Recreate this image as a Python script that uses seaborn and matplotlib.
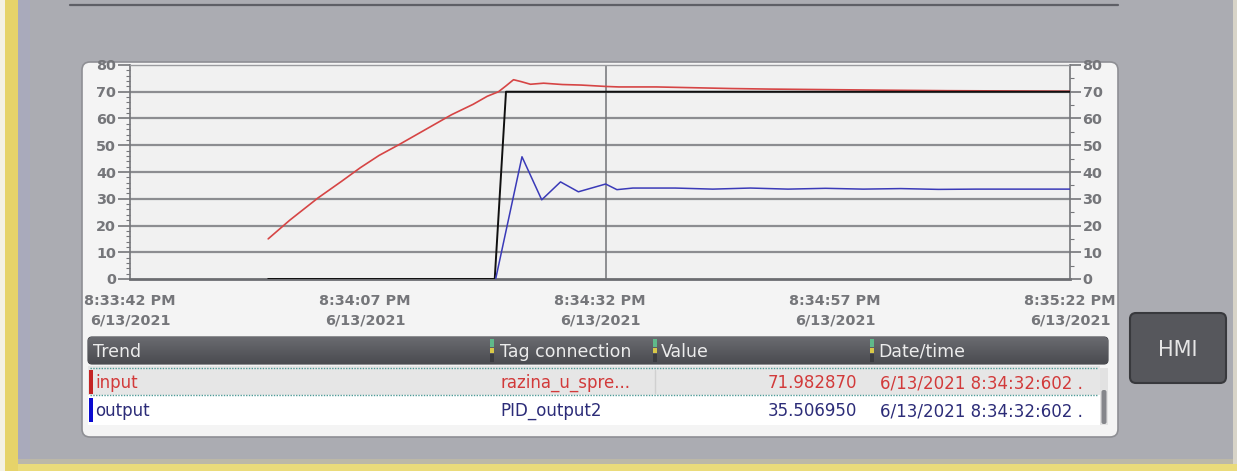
import matplotlib
matplotlib.use("Agg")
import matplotlib.pyplot as plt
from matplotlib.patches import FancyBboxPatch, Rectangle
from matplotlib.colors import LinearSegmentedColormap
from matplotlib.ticker import MultipleLocator, FixedLocator
import numpy as np
import pandas as pd
import seaborn as sns

# ---- trend data (seconds after 8:33:42 PM) ----
input_t = [14.7, 17.0, 20.0, 22.5, 24.5, 26.5, 28.6, 31.0, 34.2, 36.5, 38.0, 39.2,
           40.0, 40.8, 41.6, 42.6, 44.0, 46.0, 48.0, 50.602, 52.0, 56.0, 60.0, 64.0,
           68.0, 74.0, 80.0, 87.0, 100.0]
input_v = [15.0, 22.0, 30.3, 36.5, 41.6, 46.2, 50.2, 55.0, 61.4, 65.3, 68.3, 70.0,
           72.2, 74.5, 73.8, 72.8, 73.2, 72.7, 72.5, 71.98287, 71.8, 71.8, 71.5, 71.2,
           71.0, 70.8, 70.6, 70.4, 70.2]

setpoint_t = [14.7, 38.8, 40.0, 100.0]
setpoint_v = [0.0, 0.0, 70.0, 70.0]

output_t = [38.9, 41.7, 43.8, 45.8, 47.7, 50.602, 51.8, 53.5, 58.0, 62.0, 66.0, 70.0,
            74.0, 78.0, 82.0, 86.0, 90.0, 95.0, 100.0]
output_v = [0.0, 45.7, 29.6, 36.3, 32.6, 35.50695, 33.4, 34.0, 34.0, 33.6, 34.0, 33.6,
            33.9, 33.6, 33.8, 33.5, 33.6, 33.6, 33.6]

cursor_t = 50.602
x_tick_pos = [0, 25, 50, 75, 100]
x_tick_labels = ["8:33:42 PM\n6/13/2021", "8:34:07 PM\n6/13/2021", "8:34:32 PM\n6/13/2021",
                 "8:34:57 PM\n6/13/2021", "8:35:22 PM\n6/13/2021"]
y_ticks = [0, 10, 20, 30, 40, 50, 60, 70, 80]

table_header = ["Trend", "Tag connection", "Value", "Date/time"]
trend_names = ["input", "output"]
tag_names = ["razina_u_spre...", "PID_output2"]
value_texts = ["71.982870", "35.506950"]
date_texts = ["6/13/2021 8:34:32:602 .", "6/13/2021 8:34:32:602 ."]

sns.set_style("white")
plt.rcParams["font.family"] = ["DejaVu Sans"]

W, H = 1237, 471
fig = plt.figure(figsize=(W / 100, H / 100), dpi=100)
fig.patch.set_facecolor("#abacb2")

# background canvas in pixel coordinates
bg = fig.add_axes([0, 0, 1, 1])
bg.axis("off")

# screen frame decorations
bg.add_patch(Rectangle((0, 0), 5, H, color="#f4f1e4", lw=0))
bg.add_patch(Rectangle((5, 0), 13, H, color="#e6d36a", lw=0))
bg.add_patch(Rectangle((18, 0), 12, 464, color="#a9aabb", lw=0))
bg.add_patch(Rectangle((18, 464), W - 18, 7, color="#eadb7a", lw=0))
bg.add_patch(Rectangle((18, 459), W - 18, 5, color="#c8c1a0", lw=0, alpha=0.6))
bg.add_patch(Rectangle((W - 4, 0), 4, 464, color="#d8d4c8", lw=0))
bg.plot([70, 1118], [5, 5], color="#5e5f66", lw=1.6)

# trend control panel
panel = FancyBboxPatch((82, 62), 1036, 375, boxstyle="round,pad=0,rounding_size=8",
                       fc="#f4f4f4", ec="#8e8f94", lw=1.2)
bg.add_patch(panel)

# table header with gradient
hdr = FancyBboxPatch((88, 337), 1020, 27, boxstyle="round,pad=0,rounding_size=4",
                     fc="none", ec="#3e3f44", lw=0.8)
bg.add_patch(hdr)
grad = np.linspace(0, 1, 64).reshape(-1, 1)
im = bg.imshow(grad, extent=(88, 1108, 364, 337),
               cmap=LinearSegmentedColormap.from_list("hdr", ["#6a6b70", "#4a4b50"]),
               aspect="auto", zorder=1)
im.set_clip_path(hdr)
bg.set_xlim(0, W)
bg.set_ylim(H, 0)

hdr_x = [93, 500, 661, 878]
for x, txt in zip(hdr_x, table_header):
    bg.text(x, 357, txt, color="#ececec", fontsize=12.5, va="baseline", ha="left", zorder=3)
for x in [490, 653, 870]:
    bg.add_patch(Rectangle((x, 339), 4, 8, color="#5fb98a", lw=0, zorder=3))
    bg.add_patch(Rectangle((x, 348), 4, 5, color="#d8c848", lw=0, zorder=3))
    bg.add_patch(Rectangle((x, 354), 4, 8, color="#3a3b40", lw=0, zorder=3))

# table rows
bg.add_patch(Rectangle((88, 366), 1012, 29, fc="#e6e6e6", lw=0, zorder=2))
bg.add_patch(Rectangle((88, 395), 1012, 30, fc="#ffffff", lw=0, zorder=2))
bg.plot([90, 1098], [368, 368], color="#4e9a96", lw=1, ls=(0, (1, 1)), zorder=3)
bg.plot([90, 1098], [395, 395], color="#4e9a96", lw=1, ls=(0, (1, 1)), zorder=3)
bg.plot([655, 655], [370, 393], color="#d0d0d0", lw=1, zorder=3)
row_colors = ["#d23a3a", "#2c2c78"]
bar_colors = ["#c42424", "#0a0ad0"]
row_base = [388, 416]
for i in range(2):
    yb = row_base[i]
    bg.add_patch(Rectangle((89, yb - 18), 4, 24, color=bar_colors[i], lw=0, zorder=3))
    bg.text(95, yb, trend_names[i], color=row_colors[i], fontsize=12, va="baseline", ha="left", zorder=4)
    bg.text(500, yb, tag_names[i], color=row_colors[i], fontsize=12, va="baseline", ha="left", zorder=4)
    bg.text(857, yb, value_texts[i], color=row_colors[i], fontsize=12, va="baseline", ha="right", zorder=4)
    bg.text(880, yb, date_texts[i], color=row_colors[i], fontsize=12, va="baseline", ha="left", zorder=4)

# scroll bar
bg.add_patch(Rectangle((1100, 368), 8, 57, fc="#e2e2e2", lw=0, zorder=3))
bg.add_patch(FancyBboxPatch((1101.5, 390), 5, 34, boxstyle="round,pad=0,rounding_size=2",
                            fc="#85868b", ec="none", zorder=4))

# HMI button
btn = FancyBboxPatch((1130, 313), 96, 70, boxstyle="round,pad=0,rounding_size=6",
                     fc="#56575c", ec="#38393d", lw=1.5)
bg.add_patch(btn)
bg.text(1178, 350, "HMI", color="#e6e6e6", fontsize=15, ha="center", va="center")

# ---- trend chart ----
ax = fig.add_axes([130 / W, (H - 279) / H, 940 / W, 214 / H])
ax.set_facecolor("#f1f1f1")
grey = "#75767a"

df_in = pd.DataFrame({"t": input_t, "v": input_v})
df_sp = pd.DataFrame({"t": setpoint_t, "v": setpoint_v})
df_out = pd.DataFrame({"t": output_t, "v": output_v})

for yv in y_ticks[1:-1]:
    ax.axhline(yv, color="#8c8d91", lw=1.6, zorder=1)
ax.axvline(cursor_t, color="#727377", lw=1.1, zorder=2)

sns.lineplot(data=df_in, x="t", y="v", ax=ax, color="#d64545", lw=1.2, sort=False,
             estimator=None, zorder=3)
sns.lineplot(data=df_sp, x="t", y="v", ax=ax, color="#101010", lw=1.4, sort=False,
             estimator=None, zorder=4)
sns.lineplot(data=df_out, x="t", y="v", ax=ax, color="#3a3ab8", lw=1.1, sort=False,
             estimator=None, zorder=5)

ax.set_xlim(0, 100)
ax.set_ylim(0, 80)
ax.set_xlabel("")
ax.set_ylabel("")
ax.xaxis.set_major_locator(FixedLocator(x_tick_pos))
ax.set_xticklabels(x_tick_labels, fontsize=10.4, fontweight="bold", color=grey, linespacing=1.45)
ax.xaxis.set_minor_locator(MultipleLocator(5))
ax.yaxis.set_major_locator(FixedLocator(y_ticks))
ax.set_yticklabels([str(v) for v in y_ticks], fontsize=10.4, fontweight="bold", color=grey)
ax.yaxis.set_minor_locator(MultipleLocator(2))
ax.tick_params(axis="x", which="major", direction="out", length=7, width=1.2, color=grey, pad=4)
ax.tick_params(axis="x", which="minor", direction="out", length=5, width=1.2, color=grey)
ax.tick_params(axis="y", which="major", direction="out", length=9, width=1.2, color=grey, pad=1)
ax.tick_params(axis="y", which="minor", direction="out", length=3, width=0.8, color=grey)
for s in ["left", "right"]:
    ax.spines[s].set_color(grey)
    ax.spines[s].set_linewidth(1.2)
ax.spines["bottom"].set_color("#6c6d71")
ax.spines["bottom"].set_linewidth(2)
ax.spines["top"].set_color("#9a9b9f")
ax.spines["top"].set_linewidth(1)

ax2 = ax.twinx()
ax2.set_ylim(0, 80)
ax2.yaxis.set_major_locator(FixedLocator(y_ticks))
ax2.set_yticklabels([str(v) for v in y_ticks], fontsize=10.4, fontweight="bold", color=grey)
ax2.yaxis.set_minor_locator(MultipleLocator(5))
ax2.tick_params(axis="y", which="major", direction="out", length=8, width=1.2, color=grey, pad=1)
ax2.tick_params(axis="y", which="minor", direction="out", length=3, width=0.8, color=grey)
for s in ax2.spines.values():
    s.set_visible(False)

fig.savefig("out.png", dpi=100)
